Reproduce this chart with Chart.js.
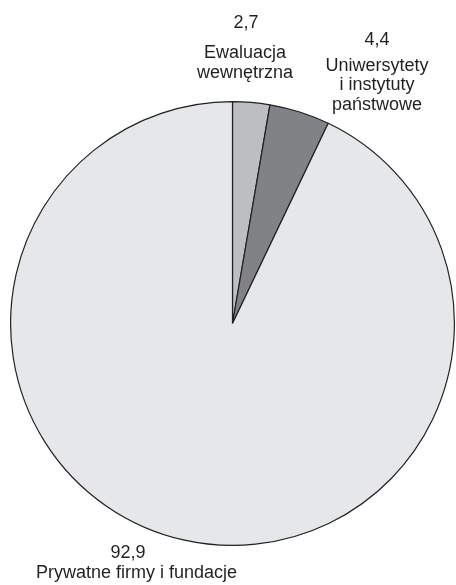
<!DOCTYPE html>
<html lang="pl">
<head>
<meta charset="utf-8">
<title>Źródła finansowania ewaluacji</title>
<script src="https://cdn.jsdelivr.net/npm/chart.js@4.4.1/dist/chart.umd.min.js"></script>
<style>
  html, body { margin: 0; padding: 0; background: #ffffff; }
  #wrap { width: 456px; height: 585px; }
</style>
</head>
<body>
<div id="wrap"><canvas id="pie" width="456" height="585"></canvas></div>
<script>
// Data
const categories = [
  ['Ewaluacja', 'wewnętrzna'],
  ['Uniwersytety', 'i instytuty', 'państwowe'],
  ['Prywatne firmy i fundacje'],
];
const shares = [2.7, 4.4, 92.9];
const valueLabels = ['2,7', '4,4', '92,9'];
const sliceColors = ['#bcbec0', '#808285', '#e6e7e8'];

// Label placement relative to the pie centre (px)
const labelPlacement = [
  { numX: 13.5,   numY: -295.8, textX: 12.5,  textY: -265.2 },
  { numX: 144.5,  numY: -278.5, textX: 144.5, textY: -252.8 },
  { numX: -104.5, numY: 234.8,  textX: -96,   textY: 254.2 },
];

// Draws the value + name of each slice outside the pie
const outsideLabels = {
  id: 'outsideLabels',
  afterDraw(chart) {
    const ctx = chart.ctx;
    const arcs = chart.getDatasetMeta(0).data;
    ctx.save();
    ctx.fillStyle = '#231f20';
    ctx.font = '18px "Liberation Sans", Arial, sans-serif';
    ctx.textAlign = 'center';
    ctx.textBaseline = 'alphabetic';
    arcs.forEach((arc, i) => {
      const p = labelPlacement[i];
      ctx.fillText(valueLabels[i], arc.x + p.numX, arc.y + p.numY);
      categories[i].forEach((line, j) => {
        ctx.fillText(line, arc.x + p.textX, arc.y + p.textY + j * 19.4);
      });
    });
    ctx.restore();
  },
};

new Chart(document.getElementById('pie'), {
  type: 'pie',
  data: {
    labels: categories.map((c) => c.join(' ')),
    datasets: [{
      data: shares,
      backgroundColor: sliceColors,
      borderColor: '#231f20',
      borderWidth: 1.2,
    }],
  },
  options: {
    responsive: false,
    animation: false,
    devicePixelRatio: 1,
    layout: { padding: { left: 10, right: 1, top: 101, bottom: 39 } },
    plugins: {
      legend: { display: false },
      tooltip: { enabled: false },
    },
  },
  plugins: [outsideLabels],
});
</script>
</body>
</html>
